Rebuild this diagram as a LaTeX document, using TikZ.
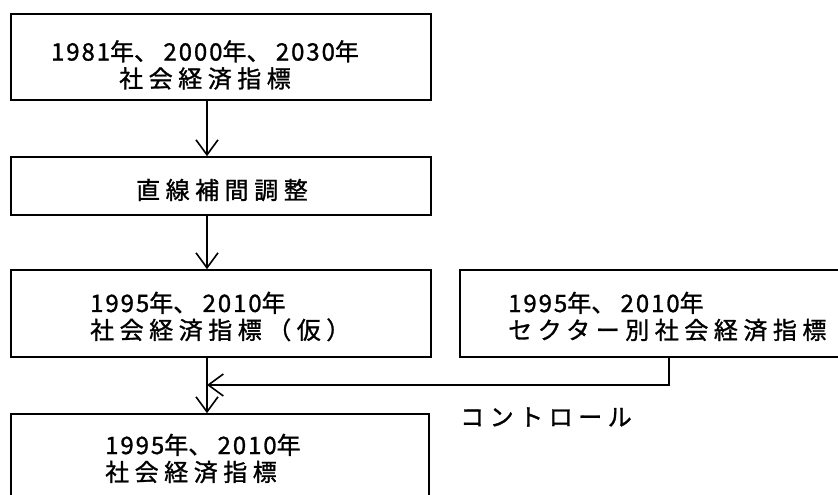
\documentclass[tikz,border=0pt]{standalone}
\usepackage{fontspec}
\setmainfont{Noto Sans CJK JP}[FakeBold=1.2]
\newfontfamily\ls{Noto Sans CJK JP}[LetterSpace=23,FakeBold=1.2]
\newfontfamily\ds{Noto Sans CJK JP}[LetterSpace=8,FakeBold=1.2]
\usetikzlibrary{arrows.meta}
\begin{document}
\begin{tikzpicture}[x=1pt,y=1pt,
  box/.style={draw, line width=1.6pt, inner sep=0pt},
  txt/.style={inner sep=0pt, font=\fontsize{24}{27}\selectfont},
  arr/.style={line width=1.6pt, -{Straight Barb[length=15pt,width=22pt,line width=1.6pt]}}]
\useasboundingbox (0,0) rectangle (838,495);
\begin{scope}
\clip (0,0) rectangle (838,495);
% boxes
\node[box, minimum width=420pt, minimum height=86pt] (b1) at (221,438) {};
\node[box, minimum width=420pt, minimum height=58pt] (b2) at (221,309) {};
\node[box, minimum width=420pt, minimum height=87pt] (b3) at (221,181.5) {};
\node[box, minimum width=500pt, minimum height=87pt] (r) at (710,181.5) {};
\node[box, minimum width=418pt, minimum height=100pt] (b4) at (220,31) {};
% texts
\node[txt, align=center] (t1) at (205,430) {{\ds 1981}{\ls 年}、 {\ds 2000}{\ls 年}、 {\ds 2030}{\ls 年}\\{\ls 社会経済指標}};
\node[txt] (t2) at (222,305) {\ls 直線補間調整};
\node[txt, align=left, anchor=west] (t3) at (90,178.5) {{\ds 1995}{\ls 年}、 {\ds 2010}{\ls 年}\\{\ls 社会経済指標（仮）}};
\node[txt, align=left, anchor=west] (t4) at (105,36.5) {{\ds 1995}{\ls 年}、 {\ds 2010}{\ls 年}\\{\ls 社会経済指標}};
\node[txt, align=left, anchor=west] (tr) at (508,178.5) {{\ds 1995}{\ls 年}、 {\ds 2010}{\ls 年}\\{\ls セクター別社会経済指標}};
\node[txt, anchor=west] (ctl) at (460,78) {\ls コントロール};
% connectors
\coordinate (ax) at (207,0);
\coordinate (rx) at (669,0);
\coordinate (j) at (207,110);
\draw[arr] (b1.south -| ax) -- (b2.north -| ax);
\draw[arr] (b2.south -| ax) -- (b3.north -| ax);
\draw[arr] (b3.south -| ax) -- (b4.north -| ax);
\draw[arr] (r.south -| rx) |- (j);
\end{scope}
\end{tikzpicture}
\end{document}
